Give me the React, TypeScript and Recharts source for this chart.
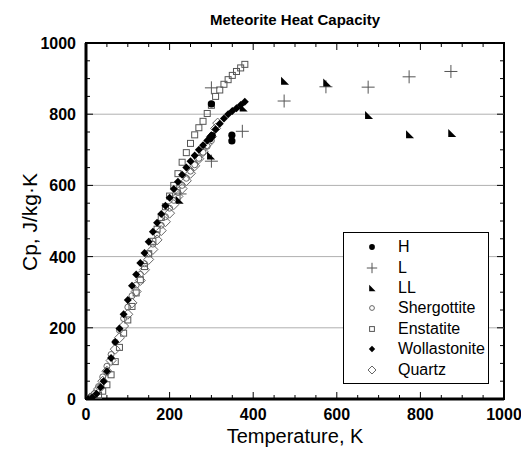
import React from "react";
import {
  ScatterChart,
  Scatter,
  XAxis,
  YAxis,
  ReferenceLine,
  ReferenceArea,
  Legend,
} from "recharts";

type Pt = { t: number; cp: number };

const FONT = "'Liberation Sans', Arial, Helvetica, sans-serif";

// plot box (layout only)
const LEFT = 86;
const RIGHT = 504;
const TOP = 43;
const BOTTOM = 399;

const axisTicks = [
  0, 50, 100, 150, 200, 250, 300, 350, 400, 450, 500, 550, 600, 650, 700, 750,
  800, 850, 900, 950, 1000,
];
const gridValues = [200, 400, 600, 800];

const hPoints: Pt[] = [
  { t: 300, cp: 829 },
  { t: 297, cp: 732 },
  { t: 302, cp: 740 },
  { t: 349, cp: 741 },
  { t: 349, cp: 725 },
];

const lPoints: Pt[] = [
  { t: 225, cp: 576 },
  { t: 300, cp: 874 },
  { t: 300, cp: 668 },
  { t: 374, cp: 752 },
  { t: 474, cp: 837 },
  { t: 574, cp: 877 },
  { t: 675, cp: 876 },
  { t: 773, cp: 905 },
  { t: 873, cp: 920 },
];

const llPoints: Pt[] = [
  { t: 223, cp: 560 },
  { t: 298, cp: 684 },
  { t: 376, cp: 819 },
  { t: 475, cp: 894 },
  { t: 576, cp: 889 },
  { t: 676, cp: 798 },
  { t: 774, cp: 744 },
  { t: 875, cp: 747 },
];

const shergottite: Pt[] = [
  { t: 10, cp: 4 }, { t: 20, cp: 15 }, { t: 30, cp: 35 }, { t: 40, cp: 62 },
  { t: 50, cp: 92 }, { t: 60, cp: 125 }, { t: 70, cp: 160 }, { t: 80, cp: 193 },
  { t: 90, cp: 226 }, { t: 100, cp: 258 }, { t: 110, cp: 290 }, { t: 120, cp: 320 },
  { t: 130, cp: 350 }, { t: 140, cp: 380 }, { t: 150, cp: 408 }, { t: 160, cp: 435 },
  { t: 170, cp: 462 }, { t: 180, cp: 488 }, { t: 190, cp: 512 }, { t: 200, cp: 536 },
  { t: 210, cp: 558 }, { t: 220, cp: 580 }, { t: 230, cp: 600 }, { t: 240, cp: 620 },
  { t: 250, cp: 640 }, { t: 260, cp: 658 }, { t: 270, cp: 676 }, { t: 280, cp: 693 },
  { t: 290, cp: 710 }, { t: 300, cp: 726 },
];

const enstatite: Pt[] = [
  { t: 10, cp: 1 }, { t: 20, cp: 3 }, { t: 30, cp: 10 }, { t: 40, cp: 22 },
  { t: 50, cp: 40 }, { t: 60, cp: 68 }, { t: 70, cp: 105 }, { t: 80, cp: 145 },
  { t: 90, cp: 185 }, { t: 100, cp: 222 }, { t: 110, cp: 260 }, { t: 120, cp: 298 },
  { t: 130, cp: 335 }, { t: 140, cp: 372 }, { t: 150, cp: 408 }, { t: 160, cp: 443 },
  { t: 170, cp: 477 }, { t: 180, cp: 510 }, { t: 190, cp: 540 }, { t: 200, cp: 570 },
  { t: 210, cp: 600 }, { t: 220, cp: 633 }, { t: 230, cp: 665 }, { t: 240, cp: 692 },
  { t: 250, cp: 718 }, { t: 260, cp: 742 }, { t: 270, cp: 762 }, { t: 280, cp: 780 },
  { t: 290, cp: 802 }, { t: 300, cp: 825 }, { t: 310, cp: 850 }, { t: 320, cp: 868 },
  { t: 330, cp: 884 }, { t: 340, cp: 897 }, { t: 350, cp: 909 }, { t: 360, cp: 920 },
  { t: 370, cp: 930 }, { t: 380, cp: 940 },
];

const wollastonite: Pt[] = [
  { t: 5, cp: 0 }, { t: 15, cp: 4 }, { t: 25, cp: 15 }, { t: 35, cp: 33 },
  { t: 42, cp: 50 }, { t: 50, cp: 78 }, { t: 60, cp: 115 }, { t: 70, cp: 160 },
  { t: 80, cp: 198 }, { t: 90, cp: 238 }, { t: 100, cp: 278 }, { t: 110, cp: 318 },
  { t: 120, cp: 350 }, { t: 130, cp: 382 }, { t: 140, cp: 410 }, { t: 150, cp: 442 },
  { t: 160, cp: 470 }, { t: 170, cp: 495 }, { t: 180, cp: 520 }, { t: 190, cp: 543 },
  { t: 200, cp: 565 }, { t: 210, cp: 590 }, { t: 220, cp: 610 }, { t: 230, cp: 630 },
  { t: 240, cp: 650 }, { t: 250, cp: 668 }, { t: 260, cp: 684 }, { t: 270, cp: 700 },
  { t: 280, cp: 713 }, { t: 290, cp: 726 }, { t: 300, cp: 740 }, { t: 310, cp: 758 },
  { t: 320, cp: 773 }, { t: 330, cp: 788 }, { t: 340, cp: 800 }, { t: 350, cp: 809 },
  { t: 360, cp: 817 }, { t: 370, cp: 826 }, { t: 380, cp: 835 },
];

const quartz: Pt[] = [
  { t: 10, cp: 3 }, { t: 20, cp: 12 }, { t: 30, cp: 28 }, { t: 40, cp: 50 },
  { t: 50, cp: 78 }, { t: 60, cp: 108 }, { t: 70, cp: 140 }, { t: 80, cp: 172 },
  { t: 90, cp: 205 }, { t: 100, cp: 238 }, { t: 110, cp: 270 }, { t: 120, cp: 302 },
  { t: 130, cp: 333 }, { t: 140, cp: 363 }, { t: 150, cp: 392 }, { t: 160, cp: 420 },
  { t: 170, cp: 447 }, { t: 180, cp: 473 }, { t: 190, cp: 498 }, { t: 200, cp: 522 },
  { t: 210, cp: 546 }, { t: 220, cp: 569 }, { t: 230, cp: 591 }, { t: 240, cp: 613 },
  { t: 250, cp: 634 }, { t: 260, cp: 655 }, { t: 270, cp: 675 }, { t: 280, cp: 695 },
  { t: 290, cp: 716 }, { t: 300, cp: 737 }, { t: 310, cp: 760 }, { t: 315, cp: 775 },
];

type Mark = "dot" | "plus" | "tri" | "ocircle" | "osquare" | "diamond" | "odiamond";

function Marker({ kind, cx = 0, cy = 0, small = false }: { kind: Mark; cx?: number; cy?: number; small?: boolean }) {
  const k = small ? 0.8 : 1;
  switch (kind) {
    case "dot":
      return <circle cx={cx} cy={cy} r={3.6 * k} fill="#000" />;
    case "plus":
      return (
        <path
          d={`M${cx - 6.5 * k},${cy}H${cx + 6.5 * k}M${cx},${cy - 6.5 * k}V${cy + 6.5 * k}`}
          stroke="#555"
          strokeWidth={1}
          fill="none"
        />
      );
    case "tri":
      return (
        <path
          d={`M${cx - 3.5 * k},${cy - 4 * k}L${cx - 3.5 * k},${cy + 4 * k}L${cx + 4.5 * k},${cy + 4 * k}Z`}
          fill="#000"
        />
      );
    case "ocircle":
      return <circle cx={cx} cy={cy} r={3 * k} fill="none" stroke="#666" strokeWidth={1} />;
    case "osquare":
      return (
        <rect x={cx - 3 * k} y={cy - 3 * k} width={6 * k} height={6 * k} fill="none" stroke="#555" strokeWidth={1} />
      );
    case "diamond":
      return (
        <path
          d={`M${cx},${cy - 4 * k}L${cx + 4 * k},${cy}L${cx},${cy + 4 * k}L${cx - 4 * k},${cy}Z`}
          fill="#000"
        />
      );
    case "odiamond":
      return (
        <path
          d={`M${cx},${cy - 5 * k}L${cx + 5 * k},${cy}L${cx},${cy + 5 * k}L${cx - 5 * k},${cy}Z`}
          fill="none"
          stroke="#666"
          strokeWidth={1}
        />
      );
  }
}

const legendItems: { name: string; kind: Mark }[] = [
  { name: "H", kind: "dot" },
  { name: "L", kind: "plus" },
  { name: "LL", kind: "tri" },
  { name: "Shergottite", kind: "ocircle" },
  { name: "Enstatite", kind: "osquare" },
  { name: "Wollastonite", kind: "diamond" },
  { name: "Quartz", kind: "odiamond" },
];

function LegendBox() {
  return (
    <div
      style={{
        border: "1.5px solid #000",
        background: "#fff",
        padding: "4px 0",
        fontFamily: FONT,
        fontSize: 16,
        boxSizing: "border-box",
        width: 146,
        height: 152,
      }}
    >
      {legendItems.map((item) => (
        <div key={item.name} style={{ display: "flex", alignItems: "center", height: 20.4 }}>
          <svg width={54} height={20} style={{ flex: "none" }}>
            <Marker kind={item.kind} cx={28} cy={10} small />
          </svg>
          <span style={{ color: "#000", lineHeight: "20px" }}>{item.name}</span>
        </div>
      ))}
    </div>
  );
}

function XTick(props: any) {
  const { x, payload } = props;
  const v = payload.value;
  const major = v % 200 === 0;
  const len = major ? 7 : 4;
  return (
    <g>
      <line x1={x} x2={x} y1={BOTTOM} y2={BOTTOM - len} stroke="#000" strokeWidth={1} />
      <line x1={x} x2={x} y1={TOP} y2={TOP + len} stroke="#000" strokeWidth={1} />
      {major && (
        <text x={x} y={BOTTOM + 21} textAnchor="middle" fontFamily={FONT} fontWeight="bold" fontSize={16} fill="#000">
          {v}
        </text>
      )}
    </g>
  );
}

function YTick(props: any) {
  const { y, payload } = props;
  const v = payload.value;
  const major = v % 200 === 0;
  const len = major ? 7 : 4;
  return (
    <g>
      <line x1={LEFT} x2={LEFT + len} y1={y} y2={y} stroke="#000" strokeWidth={1} />
      <line x1={RIGHT} x2={RIGHT - len} y1={y} y2={y} stroke="#000" strokeWidth={1} />
      {major && (
        <text x={LEFT - 10} y={y + 6} textAnchor="end" fontFamily={FONT} fontWeight="bold" fontSize={16} fill="#000">
          {v}
        </text>
      )}
    </g>
  );
}

const seriesList: { name: string; kind: Mark; data: Pt[] }[] = [
  { name: "Enstatite", kind: "osquare", data: enstatite },
  { name: "Quartz", kind: "odiamond", data: quartz },
  { name: "Shergottite", kind: "ocircle", data: shergottite },
  { name: "Wollastonite", kind: "diamond", data: wollastonite },
  { name: "H", kind: "dot", data: hPoints },
  { name: "L", kind: "plus", data: lPoints },
  { name: "LL", kind: "tri", data: llPoints },
];

export default function App() {
  return (
    <div style={{ position: "relative", width: 521, height: 449, background: "#fff" }}>
      <style>{"body{margin:0;background:#fff}"}</style>
      <div
        style={{
          position: "absolute",
          left: 0,
          width: 590,
          top: 11,
          textAlign: "center",
          fontFamily: FONT,
          fontWeight: "bold",
          fontSize: 15,
          color: "#000",
        }}
      >
        Meteorite Heat Capacity
      </div>
      <ScatterChart width={521} height={449} margin={{ top: TOP, right: 521 - RIGHT, bottom: 0, left: 6 }}>
        {gridValues.map((g) => (
          <ReferenceLine key={g} y={g} stroke="#b0b0b0" strokeWidth={1} />
        ))}
        <XAxis
          type="number"
          dataKey="t"
          domain={[0, 1000]}
          ticks={axisTicks}
          interval={0}
          height={50}
          tickLine={false}
          axisLine={{ stroke: "#000", strokeWidth: 3 }}
          tick={XTick}
          allowDataOverflow
        />
        <YAxis
          type="number"
          dataKey="cp"
          domain={[0, 1000]}
          ticks={axisTicks}
          interval={0}
          width={80}
          tickLine={false}
          axisLine={{ stroke: "#000", strokeWidth: 3 }}
          tick={YTick}
          allowDataOverflow
        />
        <ReferenceArea
          x1={0}
          x2={1000}
          y1={0}
          y2={1000}
          fill="none"
          stroke="#000"
          strokeWidth={2}
          ifOverflow="visible"
        />
        {seriesList.map((s) => (
          <Scatter
            key={s.name}
            name={s.name}
            data={s.data}
            isAnimationActive={false}
            shape={(p: any) => <Marker kind={s.kind} cx={p.cx} cy={p.cy} />}
          />
        ))}
        <Legend
          layout="vertical"
          align="center"
          verticalAlign="middle"
          content={() => <LegendBox />}
          wrapperStyle={{ left: 343, top: 232, width: 146, height: 152 }}
        />
        <text
          x={295}
          y={443}
          textAnchor="middle"
          fontFamily={FONT}
          fontSize={20}
          fill="#000"
        >
          Temperature, K
        </text>
        <text
          x={37}
          y={222}
          textAnchor="middle"
          transform="rotate(-90, 37, 222)"
          fontFamily={FONT}
          fontSize={21}
          fill="#000"
        >
          Cp, J/kg·K
        </text>
      </ScatterChart>
    </div>
  );
}
